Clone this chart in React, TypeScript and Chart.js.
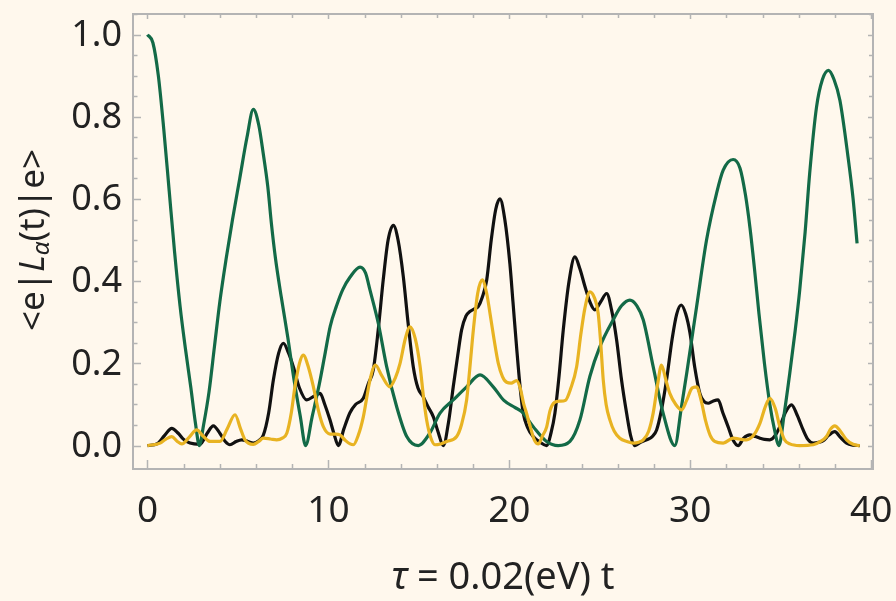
import React, { useEffect, useRef } from 'react';
import { Chart, registerables } from 'chart.js';
Chart.register(...registerables);

const xTickValues = [0, 10, 20, 30, 40];
const yTickValues = [0, 0.2, 0.4, 0.6, 0.8, 1.0];

const greenX = [0,0.3,0.6,0.9,1.2,1.5,1.8,2.1,2.4,2.65,2.87,3.1,3.4,3.7,4.0,4.35,4.7,5.1,5.5,5.85,6.15,6.4,6.65,6.85,7.07,7.4,7.75,8.1,8.45,8.74,9.1,9.5,9.8,10.1,10.45,10.8,11.2,11.75,12.05,12.3,12.76,13.22,13.77,14.33,14.97,15.6,16.17,16.9,17.64,18.38,19.11,19.7,20.3,20.7,21.32,22.06,22.7,23.35,23.9,24.45,25.0,25.74,26.2,26.66,27.05,27.4,27.95,28.5,29.15,29.5,29.8,30.35,30.9,31.45,31.82,32.37,32.75,33.05,33.3,33.55,33.8,34.1,34.4,34.65,34.9,35.2,35.5,35.8,36.05,36.35,36.6,36.98,37.3,37.64,37.95,38.27,38.72,39.0,39.22];
const greenY = [1.0,0.98,0.9,0.77,0.62,0.47,0.34,0.235,0.14,0.055,0.0,0.05,0.13,0.24,0.35,0.455,0.55,0.65,0.75,0.818,0.78,0.71,0.63,0.54,0.457,0.36,0.265,0.16,0.07,0.0,0.07,0.15,0.22,0.29,0.34,0.38,0.41,0.434,0.42,0.378,0.297,0.192,0.095,0.022,0.0,0.03,0.079,0.111,0.143,0.172,0.143,0.11,0.093,0.082,0.046,0.01,0.0,0.01,0.062,0.168,0.24,0.306,0.34,0.354,0.34,0.306,0.192,0.079,0.0,0.09,0.175,0.338,0.5,0.613,0.67,0.696,0.675,0.61,0.53,0.43,0.32,0.2,0.1,0.04,0.0,0.08,0.176,0.28,0.378,0.52,0.662,0.824,0.89,0.913,0.89,0.84,0.702,0.6,0.492];

const blackX = [0,0.55,0.95,1.34,1.7,2.0,2.35,2.9,3.3,3.64,4.0,4.3,4.56,4.9,5.21,5.55,5.85,6.15,6.4,6.7,6.96,7.25,7.51,7.8,8.06,8.4,8.8,9.2,9.54,9.8,10.09,10.3,10.55,10.85,11.19,11.5,11.93,12.2,12.48,12.75,13.03,13.3,13.59,13.85,14.14,14.4,14.69,14.95,15.24,15.5,15.8,16.05,16.35,16.65,16.9,17.15,17.36,17.6,17.82,18.05,18.28,18.5,18.75,19.0,19.25,19.48,19.75,20.03,20.2,20.4,20.6,20.77,21.0,21.32,21.7,22.06,22.3,22.52,22.75,22.98,23.3,23.62,23.9,24.18,24.45,24.73,25.05,25.38,25.65,25.93,26.2,26.48,26.7,26.94,27.25,27.59,27.9,28.14,28.4,28.69,29.0,29.25,29.5,29.75,29.98,30.25,30.53,30.75,30.99,31.25,31.54,31.8,32.09,32.35,32.65,32.95,33.29,33.6,33.85,34.1,34.4,34.7,34.95,35.25,35.6,35.9,36.24,36.5,36.8,37.1,37.35,37.65,37.99,38.3,38.64,39.0,39.37];
const blackY = [0,0.005,0.025,0.042,0.03,0.015,0.006,0.003,0.03,0.048,0.03,0.01,0.002,0.01,0.014,0.01,0.006,0.012,0.025,0.08,0.16,0.225,0.249,0.225,0.192,0.14,0.111,0.12,0.127,0.1,0.062,0.03,0.0,0.04,0.08,0.1,0.115,0.15,0.184,0.28,0.403,0.5,0.536,0.5,0.411,0.3,0.192,0.14,0.119,0.095,0.07,0.035,0.0,0.06,0.143,0.22,0.281,0.315,0.326,0.332,0.338,0.36,0.403,0.5,0.575,0.6,0.55,0.443,0.35,0.24,0.14,0.079,0.045,0.022,0.008,0.0,0.03,0.079,0.17,0.281,0.4,0.459,0.43,0.387,0.35,0.33,0.35,0.37,0.33,0.257,0.16,0.079,0.025,0.0,0.008,0.014,0.022,0.038,0.085,0.16,0.26,0.32,0.342,0.32,0.275,0.19,0.127,0.108,0.103,0.108,0.111,0.08,0.046,0.015,0.0,0.018,0.026,0.022,0.018,0.015,0.014,0.025,0.046,0.08,0.099,0.075,0.038,0.015,0.006,0.008,0.012,0.025,0.034,0.02,0.006,0.001,0.0];

const goldX = [0,0.7,1.0,1.34,1.65,1.9,2.3,2.72,3.1,3.46,4.01,4.4,4.84,5.15,5.39,5.85,6.15,6.4,6.8,7.14,7.45,7.7,7.95,8.15,8.4,8.61,8.9,9.17,9.45,9.72,10.09,10.4,10.64,10.95,11.2,11.38,11.65,11.93,12.3,12.6,12.95,13.4,13.7,13.96,14.25,14.51,14.8,15.07,15.25,15.43,15.65,15.89,16.2,16.54,17.09,17.35,17.64,17.82,18.01,18.25,18.5,18.75,18.93,19.15,19.39,19.62,19.85,20.1,20.4,20.6,20.8,20.95,21.13,21.4,21.6,21.85,22.06,22.25,22.5,22.8,23.1,23.4,23.72,23.95,24.18,24.45,24.7,24.91,25.05,25.19,25.35,25.56,25.8,26.11,26.5,26.85,27.15,27.4,27.7,27.95,28.2,28.41,28.65,28.87,29.2,29.52,29.8,30.1,30.35,30.6,30.85,31.1,31.35,31.82,32.37,32.7,33.1,33.5,33.85,34.15,34.4,34.7,34.95,35.2,35.5,36.05,36.8,37.2,37.53,37.75,37.99,38.3,38.64,39.0,39.37];
const goldY = [0,0.006,0.015,0.022,0.01,0.004,0.02,0.038,0.022,0.01,0.01,0.04,0.075,0.04,0.014,0.003,0.01,0.018,0.016,0.014,0.018,0.03,0.08,0.143,0.2,0.22,0.19,0.143,0.085,0.046,0.028,0.028,0.026,0.012,0.004,0.002,0.025,0.07,0.16,0.196,0.17,0.143,0.165,0.2,0.26,0.289,0.26,0.192,0.12,0.062,0.02,0.002,0.004,0.01,0.022,0.05,0.111,0.19,0.281,0.37,0.403,0.37,0.322,0.26,0.2,0.168,0.154,0.152,0.158,0.14,0.1,0.079,0.05,0.012,0.004,0.025,0.045,0.085,0.105,0.108,0.11,0.14,0.192,0.27,0.335,0.374,0.36,0.322,0.25,0.16,0.1,0.062,0.035,0.018,0.01,0.006,0.008,0.014,0.035,0.079,0.15,0.196,0.16,0.127,0.1,0.087,0.11,0.14,0.143,0.11,0.06,0.025,0.01,0.006,0.018,0.016,0.014,0.025,0.054,0.095,0.115,0.09,0.046,0.015,0.004,0.0,0.002,0.01,0.022,0.04,0.048,0.035,0.014,0.003,0.0];

const BG = '#fff8ed';
const FRAME = '#b4b4b4';
const TEXT = '#222222';
const FONT = '"Noto Sans", "Open Sans", sans-serif';

export default function App() {
  const ref = useRef<HTMLCanvasElement>(null);
  useEffect(() => {
    document.body.style.margin = '0';
    document.body.style.background = BG;
    const pts = (xs: number[], ys: number[]) => xs.map((x, i) => ({ x, y: ys[i] }));

    const framePlugin = {
      id: 'framePlugin',
      beforeDraw(chart: any) {
        const c = chart.ctx;
        c.save();
        c.fillStyle = BG;
        c.fillRect(0, 0, chart.width, chart.height);
        c.restore();
      },
      afterDraw(chart: any) {
        const c = chart.ctx;
        const a = chart.chartArea;
        const xs = chart.scales.x;
        const ys = chart.scales.y;
        c.save();
        c.strokeStyle = FRAME;
        c.lineWidth = 1.5;
        c.beginPath();
        for (let v = 0; v <= 40; v += 2) {
          const px = Math.round(xs.getPixelForValue(v)) + 0.5;
          const major = v % 10 === 0;
          c.moveTo(px, a.bottom);
          c.lineTo(px, a.bottom - (major ? 9 : 5));
          c.moveTo(px, a.top);
          c.lineTo(px, a.top + (major ? 5 : 4));
        }
        for (let k = 0; k <= 21; k++) {
          const v = k * 0.05;
          const py = Math.round(ys.getPixelForValue(v)) + 0.5;
          const major = k % 4 === 0;
          c.moveTo(a.left, py);
          c.lineTo(a.left + (major ? 8 : 4.5), py);
          c.moveTo(a.right, py);
          c.lineTo(a.right - (major ? 5 : 4), py);
        }
        c.stroke();
        c.lineWidth = 2;
        c.strokeRect(a.left, a.top, a.right - a.left, a.bottom - a.top);

        // tick labels
        c.fillStyle = TEXT;
        c.textBaseline = 'middle';
        c.font = `normal 37px ${FONT}`;
        c.textAlign = 'center';
        xTickValues.forEach((v) => {
          c.fillText(String(v), xs.getPixelForValue(v), 511);
        });
        c.font = `normal 36px ${FONT}`;
        c.textAlign = 'right';
        yTickValues.forEach((v) => {
          c.fillText(v.toFixed(1), 122, ys.getPixelForValue(v) + 1);
        });

        // x title
        c.textAlign = 'left';
        const xsize = 38;
        const partsX: [string, string][] = [
          ['τ', 'italic'],
          [' = 0.02(eV) t', 'normal'],
        ];
        let w = 0;
        partsX.forEach(([t, st]) => { c.font = `${st} ${xsize}px ${FONT}`; w += c.measureText(t).width; });
        let x0 = 503 - w / 2;
        partsX.forEach(([t, st]) => {
          c.font = `${st} ${xsize}px ${FONT}`;
          c.fillText(t, x0, 578);
          x0 += c.measureText(t).width;
        });

        // y title rotated
        const ysize = 35;
        const partsY: [string, string, number, number][] = [
          ['<e|', 'normal', ysize, 0],
          ['L', 'italic', ysize, 0],
          ['α', 'italic', ysize * 0.7, ysize * 0.22],
          ['(t)|e>', 'normal', ysize, 0],
        ];
        let wy = 0;
        partsY.forEach(([t, st, sz]) => { c.font = `${st} ${sz}px ${FONT}`; wy += c.measureText(t).width; });
        c.translate(34, 240);
        c.rotate(-Math.PI / 2);
        let y0 = -wy / 2;
        partsY.forEach(([t, st, sz, off]) => {
          c.font = `${st} ${sz}px ${FONT}`;
          c.fillText(t, y0, off);
          y0 += c.measureText(t).width;
        });
        c.restore();
      },
    };

    const mk = (label: string, xs: number[], ys: number[], color: string) => ({
      label,
      data: pts(xs, ys),
      borderColor: color,
      borderWidth: 3.2,
      pointRadius: 0,
      fill: false,
      cubicInterpolationMode: 'monotone' as const,
    });

    const chart = new Chart(ref.current as HTMLCanvasElement, {
      type: 'line',
      data: {
        datasets: [
          mk('gold', goldX, goldY, '#e8b322'),
          mk('green', greenX, greenY, '#136a47'),
          mk('black', blackX, blackY, '#111111'),
        ],
      },
      options: {
        responsive: false,
        animation: false,
        layout: { padding: { top: 14, right: 23, left: 0, bottom: 0 } },
        plugins: { legend: { display: false }, tooltip: { enabled: false } },
        scales: {
          x: {
            type: 'linear',
            min: -0.8,
            max: 40.1,
            grid: { display: false },
            border: { display: false },
            ticks: { display: false },
            afterFit: (s: any) => { s.height = 132; },
          },
          y: {
            type: 'linear',
            min: -0.057,
            max: 1.05,
            grid: { display: false },
            border: { display: false },
            ticks: { display: false },
            afterFit: (s: any) => { s.width = 133; },
          },
        },
      },
      plugins: [framePlugin],
    });
    return () => chart.destroy();
  }, []);
  return (
    <canvas
      ref={ref}
      width={896}
      height={601}
      style={{ display: 'block', width: '896px', height: '601px' }}
    />
  );
}
